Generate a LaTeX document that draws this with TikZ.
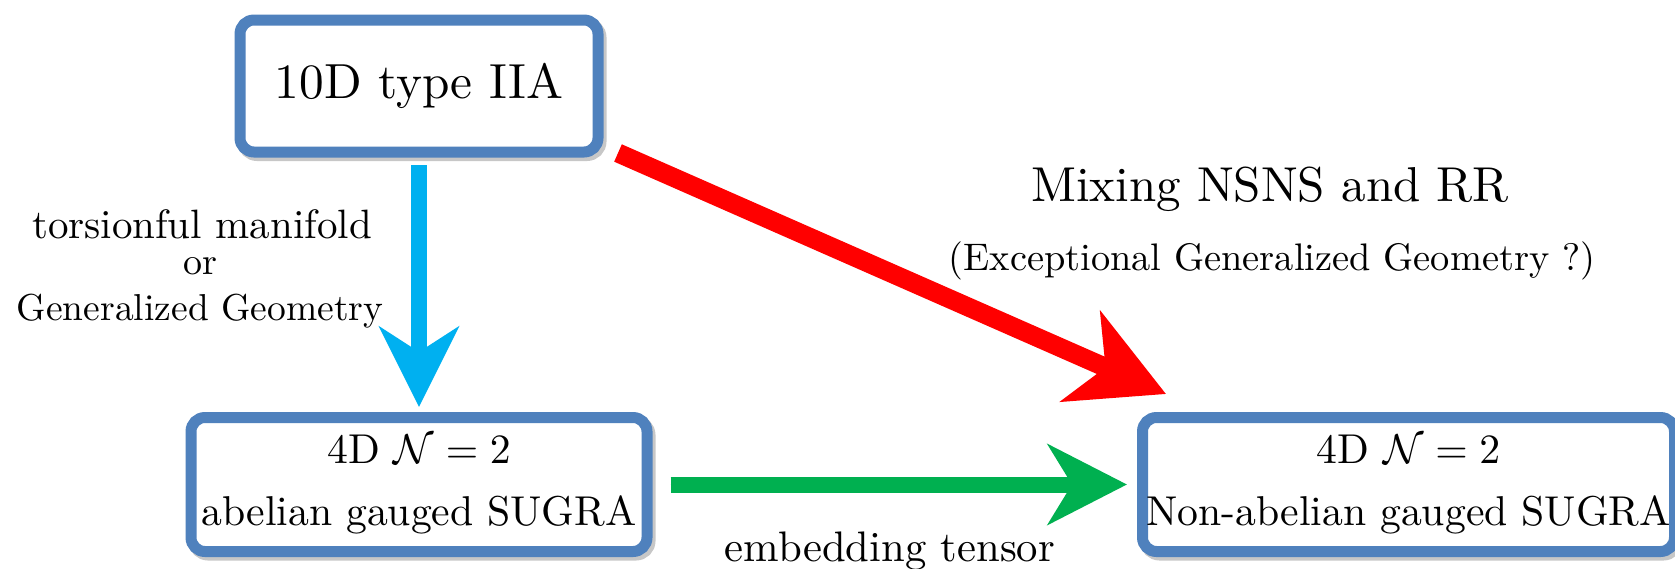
\documentclass[tikz,border=0pt]{standalone}
\usepackage{graphicx}
\usetikzlibrary{arrows.meta,shadows,calc}
\definecolor{boxblue}{RGB}{79,129,189}
\definecolor{arrblue}{RGB}{0,176,240}
\definecolor{arrgreen}{RGB}{0,176,80}
\definecolor{arrred}{RGB}{255,0,0}
\newcommand{\sbx}[2]{\scalebox{#1}{#2}}
\begin{document}
\begin{tikzpicture}[x=1pt,y=-1pt,
  box/.style={draw=boxblue, line width=11pt, rounded corners=14pt, fill=white,
    inner sep=0pt, outer sep=0pt, align=center,
    drop shadow={shadow xshift=3pt, shadow yshift=-3.5pt, opacity=0.22, fill=black, draw=black}},
  lbl/.style={inner sep=0pt, outer sep=0pt, anchor=base},
  bluearr/.style={draw=arrblue, fill=arrblue, line width=16pt, -{Stealth[length=80pt,width=79pt,inset=25pt]}},
  greenarr/.style={draw=arrgreen, fill=arrgreen, line width=16pt, -{Stealth[length=79pt,width=80pt,inset=24pt]}},
  redarr/.style={draw=arrred, fill=arrred, line width=19pt, -{Stealth[length=93pt,width=98pt,inset=27pt]}}
]
\path[use as bounding box, fill=white] (0,0) rectangle (1675,568);
\clip (0,0) rectangle (1675,568);

\node[box, minimum width=358pt, minimum height=132pt] (top) at (419,86) {\sbx{4.93}{10D type IIA}};
\node[box, minimum width=456pt, minimum height=134pt] (abel) at (419,484.5)
  {\sbx{4.17}{\begin{tabular}{@{}c@{}}4D $\mathcal{N}=2$\\[2.87pt]abelian gauged SUGRA\end{tabular}}};
\node[box, minimum width=532pt, minimum height=134pt] (nonab) at (1408.5,484.5)
  {\sbx{4.17}{\begin{tabular}{@{}c@{}}4D $\mathcal{N}=2$\\[2.87pt]Non-abelian gauged SUGRA\end{tabular}}};

\node[lbl] (mix) at (1270,201) {\sbx{4.9}{Mixing NSNS and RR}};
\node[lbl] (exc) at (1272,270) {\sbx{3.84}{(Exceptional Generalized Geometry ?)}};
\node[lbl] (l1) at (202,238) {\sbx{4.1}{torsionful manifold}};
\node[lbl] (l2) at (200,274) {\sbx{3.8}{or}};
\node[lbl] (l3) at (200,320) {\sbx{3.75}{Generalized Geometry}};
\node[lbl] (emb) at (890,561) {\sbx{4.27}{embedding tensor}};

\draw[bluearr] ($(top.south)+(0,13)$) -- ($(abel.north)+(0,-10.5)$);
\draw[greenarr] ($(abel.east)+(23.5,0)$) -- ($(nonab.west)+(-15.5,0)$);
\draw[redarr] ($(top.south east)+(20,1)$) -- ($(nonab.north west)+(23.5,-23.5)$);
\end{tikzpicture}
\end{document}
